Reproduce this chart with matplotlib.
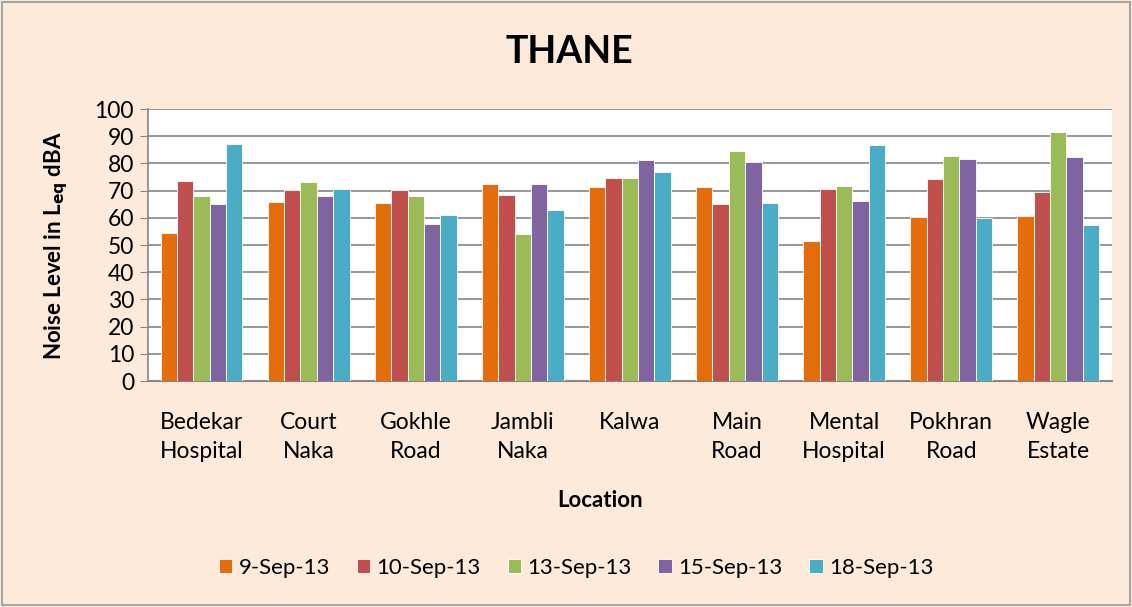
import matplotlib
matplotlib.use("Agg")
import matplotlib.pyplot as plt
import numpy as np

locations = ["Bedekar\nHospital", "Court\nNaka", "Gokhle\nRoad", "Jambli\nNaka", "Kalwa",
             "Main\nRoad", "Mental\nHospital", "Pokhran\nRoad", "Wagle\nEstate"]
dates = ["9-Sep-13", "10-Sep-13", "13-Sep-13", "15-Sep-13", "18-Sep-13"]

sep09 = [54.5, 65.9, 65.3, 72.3, 71.5, 71.5, 51.6, 60.2, 60.6]
sep10 = [73.5, 70.3, 70.1, 68.5, 74.5, 65.2, 70.7, 74.1, 69.4]
sep13 = [68.1, 73.1, 67.9, 54.2, 74.8, 84.7, 71.8, 82.7, 91.6]
sep15 = [65.2, 68.1, 57.9, 72.6, 81.3, 80.7, 66.2, 81.8, 82.3]
sep18 = [87.2, 70.6, 60.9, 62.8, 76.7, 65.4, 86.8, 60.1, 57.5]
series = [sep09, sep10, sep13, sep15, sep18]

colors = ["#E46C0A", "#C0504D", "#9BBB59", "#8064A2", "#4BACC6"]
bg = "#FDEADA"

plt.rcParams["font.family"] = ["Lato", "DejaVu Sans"]

fig = plt.figure(figsize=(11.32, 6.07), dpi=100, facecolor=bg)
fig.patches.append(plt.Rectangle((0.002, 0.003), 0.996, 0.994, transform=fig.transFigure,
                                 fill=False, edgecolor="#A6A6A6", linewidth=1.5))
ax = fig.add_axes([0.1307, 0.3723, 0.8515, 0.4481])
ax.set_facecolor("white")

x = np.arange(len(locations))
width = 0.153
for i, (vals, c, d) in enumerate(zip(series, colors, dates)):
    ax.bar(x + (i - 2) * width, vals, width, color=c, edgecolor="white", linewidth=0.6,
           label=d, zorder=3)

ax.set_xlim(-0.5, len(locations) - 0.5)
ax.set_ylim(0, 100)
ax.set_yticks(np.arange(0, 101, 10))
ax.yaxis.grid(True, color="#868686", linewidth=1.2, zorder=0)
ax.set_axisbelow(True)
for s in ["top", "right"]:
    ax.spines[s].set_visible(False)
ax.spines["left"].set_color("#868686")
ax.spines["bottom"].set_color("#868686")
ax.spines["left"].set_linewidth(1.2)
ax.spines["bottom"].set_linewidth(1.5)
ax.tick_params(axis="y", length=6, color="#868686", labelsize=16.5, pad=4)
ax.tick_params(axis="x", length=0, labelsize=16.5, pad=22)
ax.set_xticks(x)
ax.set_xticklabels(locations, linespacing=1.5)

fig.text(0.503, 0.915, "THANE", ha="center", va="center", fontsize=27, fontweight="bold")
fig.text(0.050, 0.596, "Noise Level in L$_{\\mathbf{eq}}$ dBA", rotation=90, ha="center",
         va="center", fontsize=16, fontweight="bold")
fig.text(0.53, 0.175, "Location", ha="center", va="center", fontsize=16, fontweight="bold")

fig.legend(loc="center", bbox_to_anchor=(0.509, 0.064), ncol=5, frameon=False, fontsize=16,
           handlelength=0.6, handleheight=0.6, handletextpad=0.3, columnspacing=1.2)

fig.savefig("out.png", dpi=100, facecolor=bg)
